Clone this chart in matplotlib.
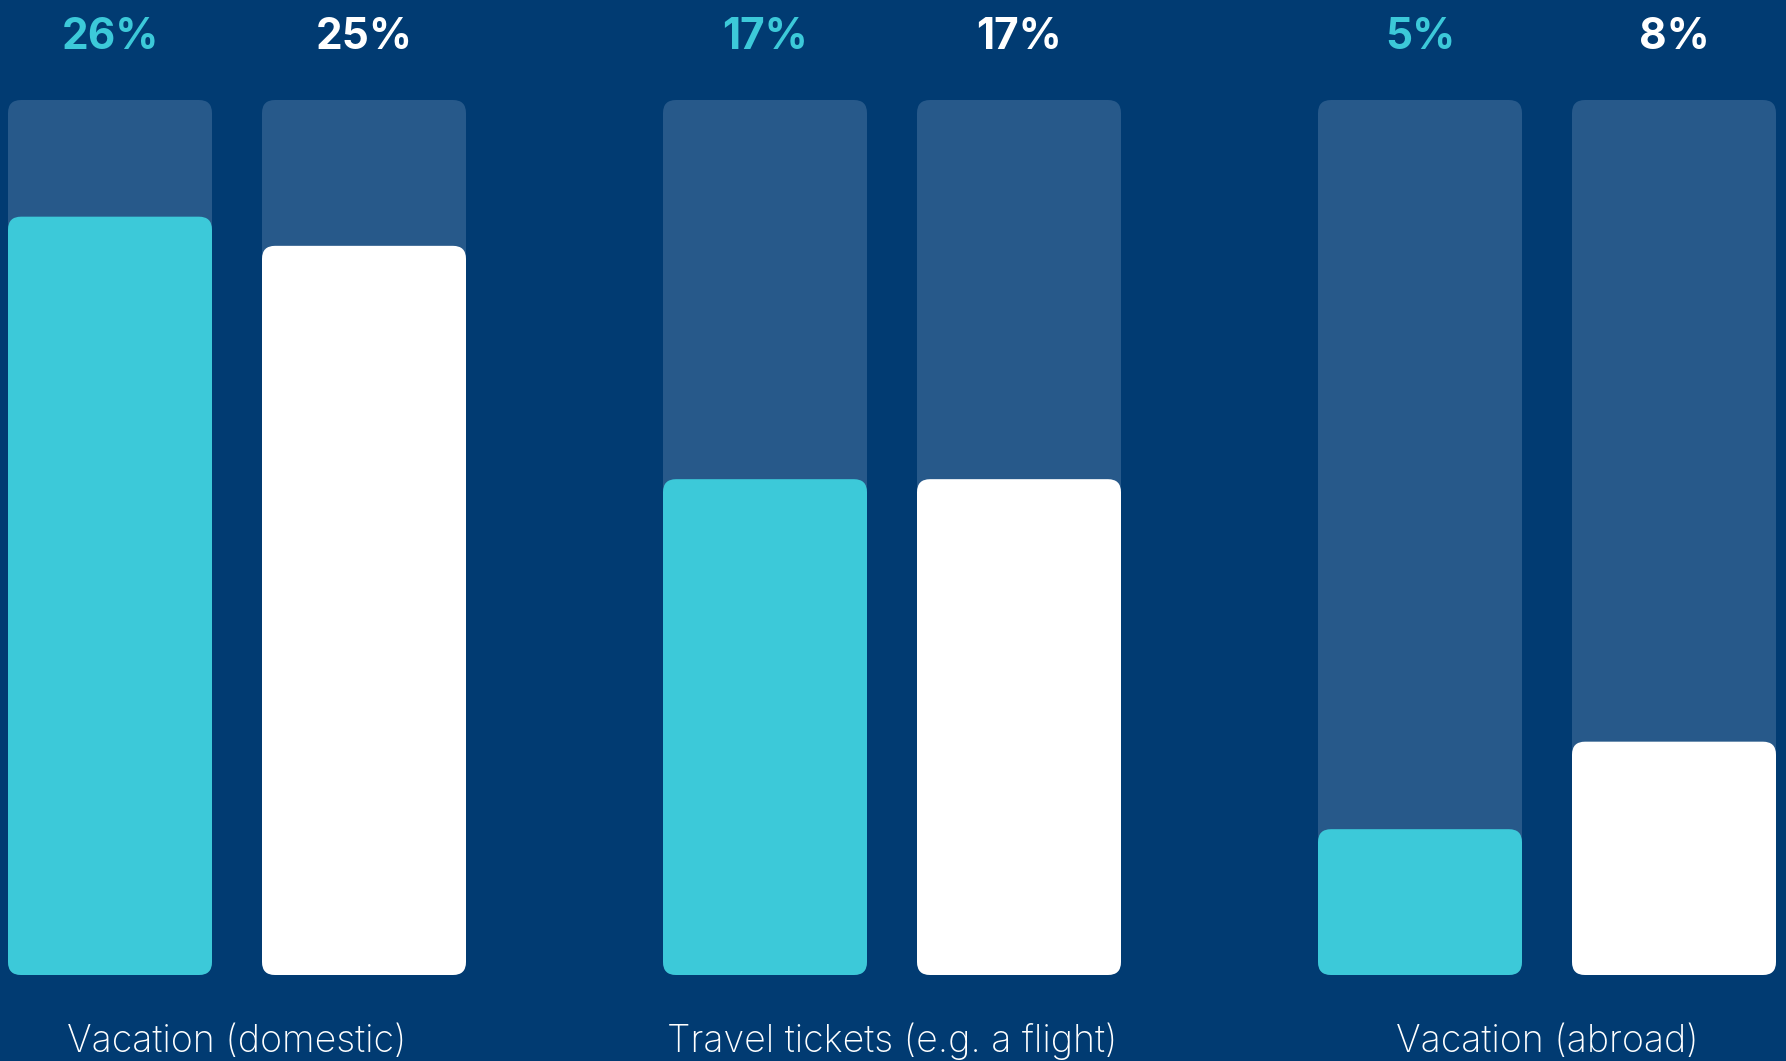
import matplotlib.pyplot as plt
import numpy as np
from matplotlib.patches import FancyBboxPatch
from matplotlib.transforms import blended_transform_factory

categories = ["Vacation (domestic)", "Travel tickets (e.g. a flight)", "Vacation (abroad)"]
series_a = [26, 17, 5]
series_b = [25, 17, 8]
value_max = 30

BG = "#013B72"
TRACK = "#27598A"
TEAL = "#3CC9D9"
WHITE = "#FFFFFF"

W, H = 1786, 1061
fig = plt.figure(figsize=(W / 100, H / 100), dpi=100, facecolor=BG)
ax_bottom = (H - 975) / H
ax_top = (H - 100) / H
ax = fig.add_axes([0, ax_bottom, 1, ax_top - ax_bottom])
ax.set_facecolor(BG)
ax.set_axis_off()

# one x unit = distance between group centres
group_px = 655.0
x0 = -237.0 / group_px
ax.set_xlim(x0, x0 + W / group_px)
ax.set_ylim(0, value_max)

bar_w = 204.0 / group_px
offset = 127.0 / group_px
radius_px = 13.0
ax_h_px = (ax_top - ax_bottom) * H
aspect = (value_max / ax_h_px) * group_px
rounding = radius_px / group_px


def rounded_bar(x_center, height, color, zorder):
    patch = FancyBboxPatch(
        (x_center - bar_w / 2, 0), bar_w, height,
        boxstyle=f"round,pad=0,rounding_size={rounding}",
        mutation_aspect=aspect,
        facecolor=color, edgecolor="none", zorder=zorder,
    )
    ax.add_patch(patch)


trans = blended_transform_factory(ax.transData, fig.transFigure)
x = np.arange(len(categories))
for i, cat in enumerate(categories):
    for dx, val, color in ((-offset, series_a[i], TEAL), (offset, series_b[i], WHITE)):
        xc = x[i] + dx
        rounded_bar(xc, value_max, TRACK, 1)
        rounded_bar(xc, val, color, 2)
        ax.text(xc, 1 - 49 / H, f"{val}%", transform=trans, ha="center", va="baseline",
                fontsize=30.5, fontweight="bold", color=color, family=["Inter", "DejaVu Sans"])
    ax.text(x[i], 1 - 1052 / H, cat, transform=trans, ha="center", va="baseline",
            fontsize=27, fontweight="light", color=WHITE, family=["Inter", "DejaVu Sans"])

fig.savefig("out.png", dpi=100, facecolor=BG)
